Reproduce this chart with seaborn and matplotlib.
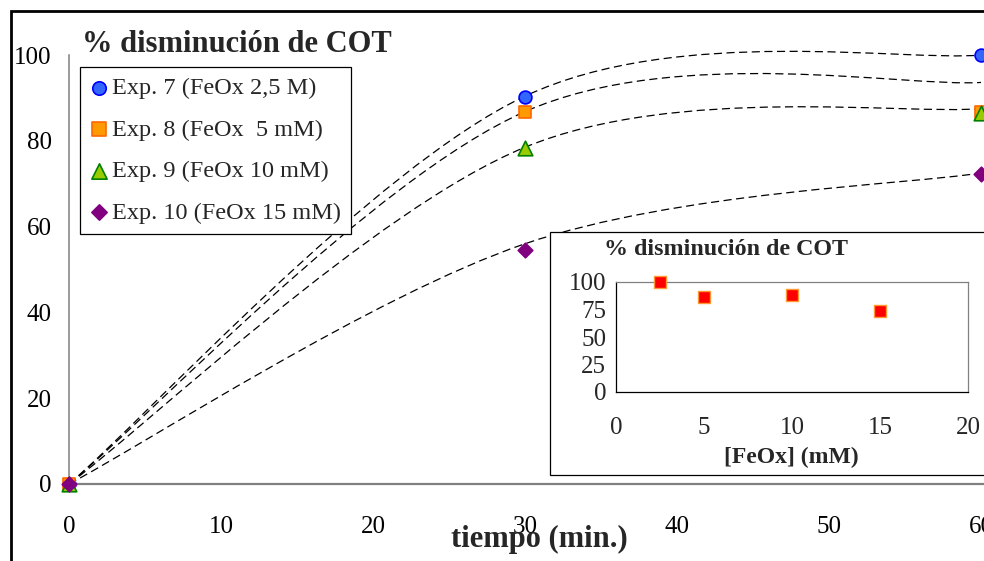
import numpy as np
import matplotlib
matplotlib.use("Agg")
import matplotlib.pyplot as plt
import seaborn as sns
from matplotlib.path import Path
from matplotlib.patches import PathPatch, Rectangle
from matplotlib.ticker import MultipleLocator

# ---- data -------------------------------------------------------------
tiempo = [0, 30, 60]                      # min
exp7 = [0, 90.2, 100.0]                   # % disminución de COT
exp8 = [0, 86.7, 86.8]
exp9 = [0, 78.3, 86.5]
exp10 = [0, 54.5, 72.3]

etiquetas = ["Exp. 7 (FeOx 2,5 M)", "Exp. 8 (FeOx  5 mM)",
             "Exp. 9 (FeOx 10 mM)", "Exp. 10 (FeOx 15 mM)"]

# smoothed trend lines
tend7 = [0, 90.4, 100.0]
tend8 = [0, 86.8, 93.6]
tend9 = [0, 78.5, 87.5]
tend10 = [0, 56.0, 72.5]

# inset: COT removal at 60 min vs oxalate concentration
feox = [2.5, 5, 10, 15]                   # mM
cot_final = [100, 86.1, 87.9, 73.2]

# ---- style ------------------------------------------------------------
sns.set_style("white")
plt.rcParams["font.family"] = ["Liberation Serif", "DejaVu Serif"]

W, H = 984, 561
fig = plt.figure(figsize=(W / 100, H / 100), dpi=100)


def fx(px):
    return px / W


def fy(py):
    return 1 - py / H


def curva_suave(x, y):
    """Bezier smoothing through the points (spreadsheet-style smoothed line)."""
    p = np.column_stack([x, y]).astype(float)
    n = len(p)
    verts, codes = [p[0]], [Path.MOVETO]
    for i in range(n - 1):
        prev = p[max(i - 1, 0)]
        nxt = p[min(i + 2, n - 1)]
        c1 = p[i] + (p[i + 1] - prev) / 6
        c2 = p[i + 1] - (nxt - p[i]) / 6
        verts += [c1, c2, p[i + 1]]
        codes += [Path.CURVE4] * 3
    return Path(verts, codes)


# ---- main axes --------------------------------------------------------
x0, x1, y0, y1 = 69, 984, 484, 55
ax = fig.add_axes([fx(x0), fy(y0), fx(x1 - x0), (y0 - y1) / H])
ax.set_xlim(0, 60 + 3 / 15.2)
ax.set_ylim(0, 100)

for t in (tend7, tend8, tend9, tend10):
    ax.add_patch(PathPatch(curva_suave(tiempo, t), fill=False, ec="black",
                           lw=0.9, ls=(0, (6.5, 3.6)), zorder=2,
                           clip_on=False))

estilos = [
    (exp7, "o", 85, "#3366FF", "#0000FF"),
    (exp8, "s", 80, "#FF9900", "#FF6600"),
    (exp9, "^", 110, "#99CC00", "#008000"),
    (exp10, "D", 55, "#800080", "#800080"),
]
for (vals, mk, sz, fc, ec), lab in zip(estilos, etiquetas):
    sns.scatterplot(x=tiempo, y=vals, marker=mk, s=sz, color=fc,
                    edgecolor=ec, linewidth=1.2, label=lab, ax=ax,
                    clip_on=False, zorder=4)

ax.set_xticks(range(0, 61, 10))
ax.set_yticks(range(0, 101, 20))
ax.tick_params(axis="both", direction="out", length=5, width=1.1,
               color="#808080", labelcolor="black", labelsize=18)
ax.tick_params(axis="x", pad=18)
ax.tick_params(axis="y", pad=7.5)
for s in ("top", "right"):
    ax.spines[s].set_visible(False)
ax.spines["left"].set_color("#808080")
ax.spines["left"].set_linewidth(1.1)
ax.spines["bottom"].set_color("#808080")
ax.spines["bottom"].set_linewidth(1.6)
ax.set_xlabel("")
ax.set_ylabel("")

leg = ax.legend(loc="upper left", bbox_to_anchor=(fx(80), fy(67)),
                bbox_transform=fig.transFigure, borderaxespad=0,
                frameon=True, fancybox=False, framealpha=1, edgecolor="black",
                fontsize=17.5, handlelength=0.7, handletextpad=0.2,
                labelspacing=0.8, borderpad=0.42, scatterpoints=1,
                markerscale=1.05)
leg.get_frame().set_linewidth(0.9)

# inset frame (white box covering the plot behind it)
ax.add_patch(Rectangle((fx(550), fy(475)), 1.0, (475 - 232) / H,
                       transform=fig.transFigure, facecolor="white",
                       edgecolor="black", lw=0.9, clip_on=False, zorder=10))

# ---- texts ------------------------------------------------------------
fig.text(fx(82), fy(51.5), "% disminución de COT", fontsize=22,
         fontweight="bold", ha="left", va="baseline")
fig.text(fx(539), fy(539), "tiempo (min.)", fontsize=22, fontweight="bold",
         ha="center", va="center")

# ---- inset axes -------------------------------------------------------
ix0, ix1, iy0, iy1 = 616, 968, 392, 282
ins = fig.add_axes([fx(ix0), fy(iy0), fx(ix1 - ix0), (iy0 - iy1) / H])
ins.set_facecolor("white")
sns.scatterplot(x=feox, y=cot_final, marker="s", s=80, color="#FF0000",
                edgecolor="#FF9933", linewidth=1.0, ax=ins, clip_on=False,
                zorder=4, legend=False)
ins.set_xlim(0, 20)
ins.set_ylim(0, 100)
ins.xaxis.set_major_locator(MultipleLocator(5))
ins.xaxis.set_minor_locator(MultipleLocator(2.5))
ins.yaxis.set_major_locator(MultipleLocator(25))
ins.tick_params(axis="both", which="both", direction="out", length=4,
                width=0.9, color="black", labelsize=18)
ins.tick_params(axis="x", pad=14)
ins.tick_params(axis="y", pad=3)
for s in ("top", "right"):
    ins.spines[s].set_color("#808080")
    ins.spines[s].set_linewidth(0.9)
for s in ("left", "bottom"):
    ins.spines[s].set_color("black")
    ins.spines[s].set_linewidth(0.9)
ins.set_xlabel("")
ins.set_ylabel("")

fig.text(fx(726), fy(250), "% disminución de COT", fontsize=17.3,
         fontweight="bold", ha="center", va="center")
fig.text(fx(791), fy(457), "[FeOx] (mM)", fontsize=17, fontweight="bold",
         ha="center", va="center")

# outer chart border (left and top edges visible)
fig.add_artist(Rectangle((fx(11), -0.2), 1.5, fy(11) + 0.2,
                         transform=fig.transFigure, fill=False,
                         edgecolor="black", lw=2.0))

fig.savefig("out.png", dpi=100)
